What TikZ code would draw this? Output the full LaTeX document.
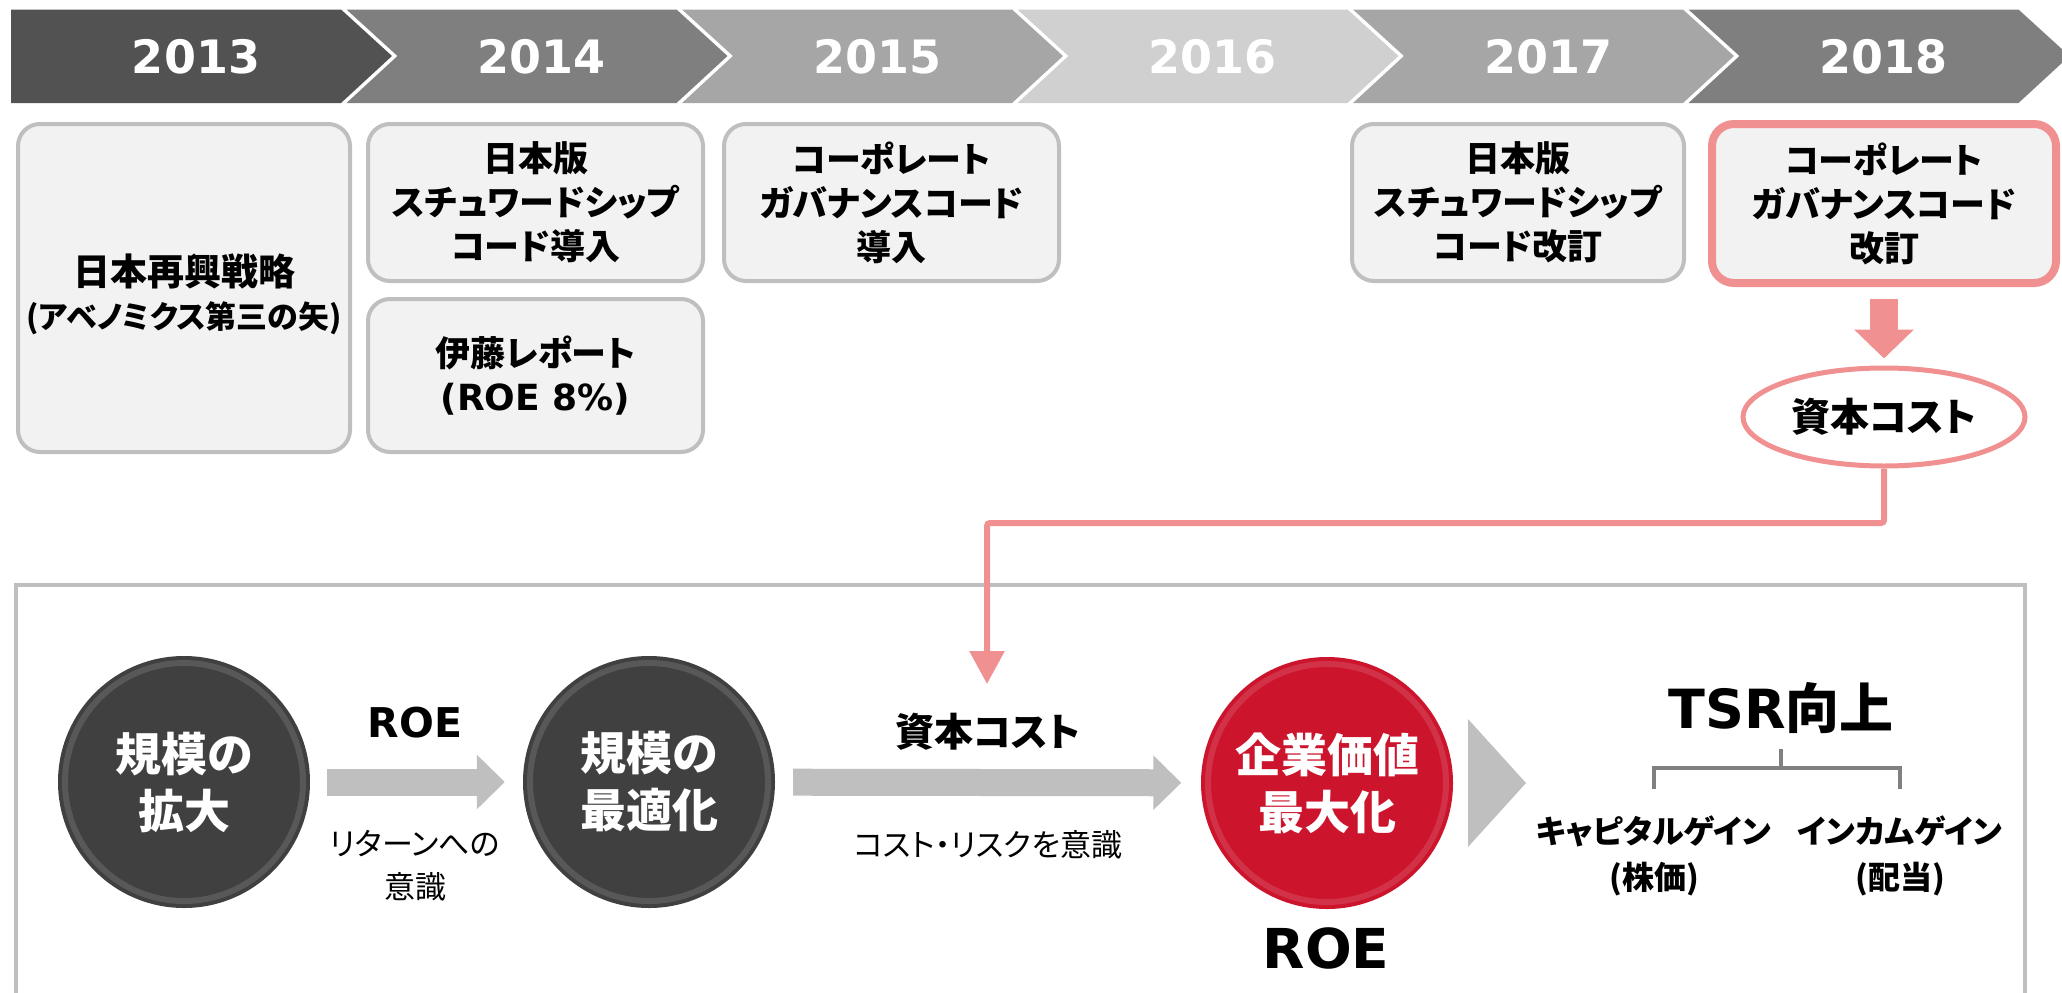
\documentclass[tikz,border=0pt]{standalone}
\usepackage{fontspec}
\setmainfont{Noto Sans CJK JP}[RawFeature=+palt]
\newfontfamily\lat{DejaVu Sans}
\usetikzlibrary{arrows.meta,shapes.geometric,calc}
\definecolor{cya}{RGB}{82,82,82}
\definecolor{cyb}{RGB}{127,127,127}
\definecolor{cyc}{RGB}{166,166,166}
\definecolor{cyd}{RGB}{208,208,208}
\definecolor{boxfill}{RGB}{242,242,242}
\definecolor{boxline}{RGB}{191,191,191}
\definecolor{pinkline}{RGB}{240,144,144}
\definecolor{darkball}{RGB}{64,64,64}
\definecolor{redball}{RGB}{204,20,44}
\definecolor{brk}{RGB}{128,128,128}
\tikzset{
  yearlbl/.style={text=white, inner sep=0pt, font=\lat\bfseries\fontsize{46}{54}\selectfont},
  evbox/.style={draw=boxline, line width=4pt, fill=boxfill, rounded corners=22pt, align=center, inner sep=0pt, font=\bfseries\fontsize{35}{44}\selectfont},
  redbox/.style={evbox, draw=pinkline, line width=8pt},
  ball/.style={circle, minimum size=252pt, inner sep=0pt, text=white, align=center, font=\bfseries\fontsize{46}{57}\selectfont},
  blockarrow/.style={draw=boxline, line width=27pt, -{Triangle[length=28pt,width=53pt]}},
  boldlbl/.style={inner sep=0pt, align=center, font=\bfseries\fontsize{39}{44}\selectfont},
  thinlbl/.style={inner sep=0pt, align=center, font=\fontsize{31}{43}\selectfont},
  gainlbl/.style={inner sep=0pt, align=center, font=\bfseries\fontsize{32}{46}\selectfont},
}
\begin{document}
\begin{tikzpicture}[x=1pt,y=-1pt]
\useasboundingbox (0,0) rectangle (2062,993);
% timeline chevrons
\foreach \i/\col/\yr in {0/cya/2013,1/cyb/2014,2/cyc/2015,3/cyd/2016,4/cyc/2017,5/cyb/2018}{
  \pgfmathsetmacro\aa{11+335.5*\i}
  \pgfmathsetmacro\nn{\i>0 ? 51 : 0}
  \fill[\col] (\aa,9.5) -- ({\aa+330},9.5) -- ({\aa+381},56) -- ({\aa+330},103) -- (\aa,103) -- ({\aa+\nn},56) -- cycle;
  \node[yearlbl] (y\yr) at ({\aa+185+\nn*0.2},57) {\yr};
}
% event boxes
\node[evbox, minimum width=332pt, minimum height=328pt] (b1) at (184,288) {};
\node[inner sep=0pt, align=center, font=\bfseries\fontsize{31}{43}\selectfont] (b1t) at (184,294) {{\fontsize{37}{43}\selectfont 日本再興戦略}\\(アベノミクス第三の矢)};
\node[evbox, minimum width=335pt, minimum height=157pt] (b2) at (535.5,202.5) {日本版\\スチュワードシップ\\コード導入};
\node[evbox, minimum width=335pt, minimum height=153pt] (b3) at (535.5,375.5) {伊藤レポート\\{\lat\bfseries\fontsize{36}{44}\selectfont (ROE 8\%)}};
\node[evbox, minimum width=335pt, minimum height=157pt] (b4) at (891.5,202.5) {コーポレート\\ガバナンスコード\\導入};
\node[evbox, minimum width=332pt, minimum height=157pt] (b5) at (1518,202.5) {日本版\\スチュワードシップ\\コード改訂};
\node[redbox, minimum width=344pt, minimum height=159pt] (b6) at (1884,203.5) {コーポレート\\ガバナンスコード\\改訂};
% capital cost ellipse
\node[ellipse, draw=pinkline, line width=5pt, fill=white, minimum width=282pt, minimum height=98pt, inner sep=0pt, font=\bfseries\fontsize{39}{44}\selectfont] (el) at (1884,417) {資本コスト};
\draw[pinkline, line width=28pt, shorten <=12pt, shorten >=7pt, -{Triangle[length=29pt,width=58pt]}] (b6.south) -- (el.north);
% frame
\draw[boxline, line width=4pt] (16,1010) -- (16,585) -- (2025,585) -- (2025,1010);
% connector to lower flow
\coordinate (hz) at (0,523);
\coordinate (ct) at (987,684);
\draw[pinkline, line width=6pt, rounded corners=3pt, -{Triangle[length=33pt,width=34pt]}] (el.south) -- (el.south |- hz) -| (ct);
% balls
\node[ball, fill=darkball] (c1) at (184,782) {規模の\\拡大};
\node[ball, fill=darkball] (c2) at (649,782) {規模の\\最適化};
\node[ball, fill=redball] (c3) at (1327,783) {企業価値\\最大化};
\foreach \b in {c1,c2,c3}{
  \draw[white, opacity=0.13, line width=6pt] (\b.center) circle (119pt);
}
% flow arrows
\draw[blockarrow, shorten <=17pt, shorten >=18pt] (c1) -- (c2);
\draw[blockarrow, shorten <=18pt, shorten >=19.5pt] (c2) -- (c3);
\fill[boxline] (1468,719) -- (1526,783) -- (1468,847) -- cycle;
% labels
\node[boldlbl, font=\lat\bfseries\fontsize{41}{44}\selectfont] (roe1) at (415,723) {ROE};
\node[thinlbl] (ret) at (415,866) {リターンへの\\意識};
\node[boldlbl] (cost) at (988,732) {資本コスト};
\node[thinlbl] (risk) at (988,845) {コスト・リスクを意識};
\node[boldlbl, font=\bfseries\fontsize{54}{60}\selectfont] (tsr) at (1781,708) {{\lat TSR}向上};
\node[boldlbl, font=\lat\bfseries\fontsize{55}{60}\selectfont] (roe2) at (1326,948) {ROE};
\node[gainlbl] (cap) at (1654,856) {キャピタルゲイン\\(株価)};
\node[gainlbl] (inc) at (1900,856) {インカムゲイン\\(配当)};
% bracket
\coordinate (bt) at (1781,749);
\coordinate (bm) at (1781,768);
\coordinate (bb) at (0,789);
\draw[brk, line width=4pt] (bt) -- (bm);
\draw[brk, line width=4pt] (cap.north |- bb) -- (cap.north |- bm) -- (inc.north |- bm) -- (inc.north |- bb);
\end{tikzpicture}
\end{document}
